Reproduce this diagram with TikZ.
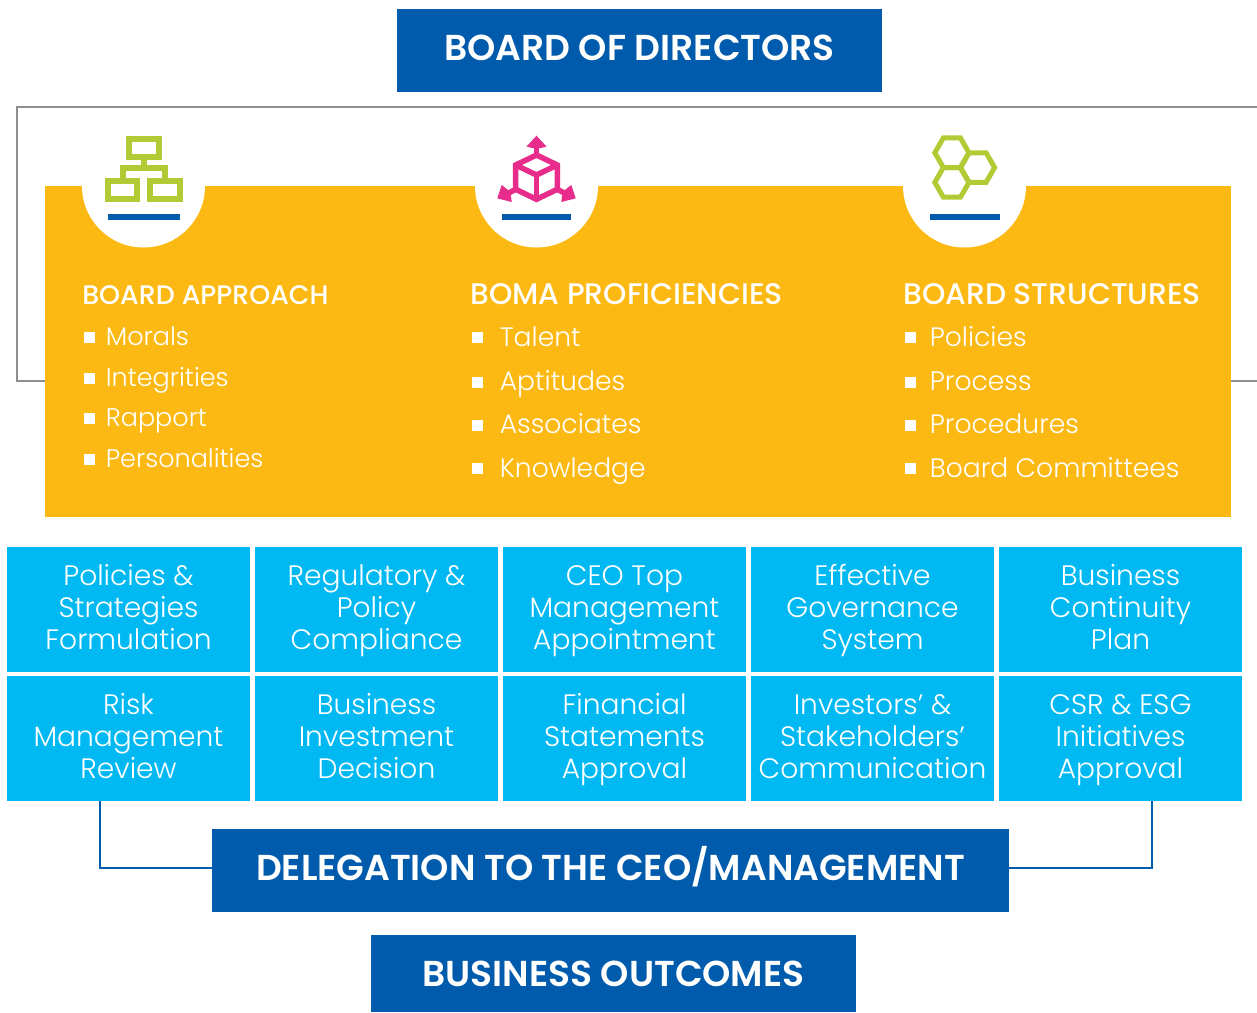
\documentclass[tikz,border=0pt]{standalone}
\usepackage{fontspec}
\setmainfont{Poppins}
\newfontface\lightface{Poppins Light}
\newfontface\mediumface{Poppins Medium}
\newfontface\semiface{Poppins SemiBold}
\usetikzlibrary{calc}
\usetikzlibrary{positioning}

\definecolor{navy}{HTML}{005BAC}
\definecolor{sky}{HTML}{00B9F2}
\definecolor{amber}{HTML}{FDB913}
\definecolor{leaf}{HTML}{B2CB34}
\definecolor{rose}{HTML}{E72C8B}
\definecolor{frame}{HTML}{8C8F91}

\tikzset{
    banner/.style={fill=navy, text=white, inner sep=0pt, minimum height=1.66cm, font=\fontsize{20.5}{24}\selectfont\semiface, execute at begin node={\rule[-8pt]{0pt}{\dimexpr16pt+#1+#1\relax}}},
    banner/.default=5.8pt,
    cell/.style={fill=sky, text=white, inner sep=0pt, minimum width=4.86cm, minimum height=2.5cm, align=center, font=\fontsize{16}{18.14}\selectfont\lightface, execute at begin node={\rule{0pt}{51.4pt}}, execute at end node={\rule[-6.4pt]{0pt}{6.4pt}}},
    head/.style={anchor=base west, text=white, inner sep=0pt, font=\fontsize{16.95}{18}\selectfont\mediumface},
    item/.style={anchor=base west, text=white, inner sep=0pt, font=\fontsize{15.15}{18}\selectfont\lightface},
    smallhead/.style={head, font=\fontsize{15.25}{18}\selectfont\mediumface},
    smallitem/.style={item, font=\fontsize{14.5}{18}\selectfont\lightface},
    link/.style={draw=navy, line width=0.04cm},
    rim/.style={draw=frame, line width=0.04cm}
}

\begin{document}
\begin{tikzpicture}[x=0.02cm, y=-0.02cm]

    \useasboundingbox (0,0) rectangle (1257,1012);

    \coordinate (approach) at (82,303);
    \coordinate (boma) at (470,303);
    \coordinate (structures) at (903,303);

    % frame behind the panel
    \draw[rim] (45,381) -- (17,381) -- (17,107) -- (1257,107);
    \draw[rim] (1231,381) -- (1257,381);

    \node[banner, minimum width=9.7cm] (board) at (639.5,50.5) {BOARD OF DIRECTORS};

    \fill[amber] (45,186) rectangle (1231,517);
    \fill[white] (143.5,186) circle (61.5);
    \fill[white] (536.5,186) circle (61.5);
    \fill[white] (964.5,186) circle (61.5);
    \fill[navy] (108,214) rectangle (180,220);
    \fill[navy] (502,214) rectangle (571,220);
    \fill[navy] (930,214) rectangle (1000,220);

    % org chart icon
    \draw[leaf, line width=0.12cm] (128.7,138.7) rectangle (158.7,157);
    \draw[leaf, line width=0.12cm] (108,181) rectangle (137,199);
    \draw[leaf, line width=0.12cm] (150,181) rectangle (180,199);
    \draw[leaf, line width=0.12cm] (144,157) -- (144,168);
    \draw[leaf, line width=0.12cm] (122.7,178) -- (122.7,168) -- (165,168) -- (165,178);

    % cube icon
    \draw[rose, line width=0.11cm, line join=miter] (536.5,155) -- (515.7,165) -- (515.7,189.3) -- (536.5,199.3) -- (557.3,189.3) -- (557.3,165) -- cycle;
    \draw[rose, line width=0.11cm] (515.7,165) -- (536.5,175) -- (557.3,165);
    \draw[rose, line width=0.11cm] (536.5,175) -- (536.5,199.3);
    \draw[rose, line width=0.11cm] (536.5,155) -- (536.5,145);
    \draw[rose, line width=0.11cm] (515.7,189.3) -- (505,195);
    \draw[rose, line width=0.11cm] (557.3,189.3) -- (568,195);
    \fill[rose] (536.5,135.7) -- (546.5,146.5) -- (541,148) -- (532,148) -- (526.5,146.5) -- cycle;
    \fill[rose] (497.3,198.3) -- (501.7,185) -- (508,190) -- (511,196) -- (511.7,202) -- cycle;
    \fill[rose] (575.7,198.3) -- (571.3,185) -- (565,190) -- (562,196) -- (561.3,202) -- cycle;

    % honeycomb icon
    \draw[leaf, line width=0.1cm] (951.9,152.75) ++(17.1,0) -- ++(-8.55,-14.8) -- ++(-17.1,0) -- ++(-8.55,14.8) -- ++(8.55,14.8) -- ++(17.1,0) -- cycle;
    \draw[leaf, line width=0.1cm] (951.9,182.35) ++(17.1,0) -- ++(-8.55,-14.8) -- ++(-17.1,0) -- ++(-8.55,14.8) -- ++(8.55,14.8) -- ++(17.1,0) -- cycle;
    \draw[leaf, line width=0.1cm] (977.5,167.55) ++(17.1,0) -- ++(-8.55,-14.8) -- ++(-17.1,0) -- ++(-8.55,14.8) -- ++(8.55,14.8) -- ++(17.1,0) -- cycle;

    % first list
    \node[smallhead] (approachhead) at (82,304) {BOARD APPROACH};
    \fill[white] (approach)++(2,29) rectangle +(11,11);
    \node[smallitem] (morals) at (105.5,345) {Morals};
    \fill[white] (approach)++(2,70) rectangle +(11,11);
    \node[smallitem] (integrities) at (105.5,386) {Integrities};
    \fill[white] (approach)++(2,110) rectangle +(11,11);
    \node[smallitem] (rapport) at (105.5,426) {Rapport};
    \fill[white] (approach)++(2,151) rectangle +(11,11);
    \node[smallitem] (personalities) at (105.5,467) {Personalities};

    % second list
    \node[head] (bomahead) at (470,304) {BOMA PROFICIENCIES};
    \fill[white] (boma)++(2,29) rectangle +(11,11);
    \node[item] (talent) at (499.5,346.5) {Talent};
    \fill[white] (boma)++(2,74) rectangle +(11,11);
    \node[item] (aptitudes) at (499.5,390.5) {Aptitudes};
    \fill[white] (boma)++(2,117) rectangle +(11,11);
    \node[item] (associates) at (499.5,433.5) {Associates};
    \fill[white] (boma)++(2,160) rectangle +(11,11);
    \node[item] (knowledge) at (499.5,477.5) {Knowledge};

    % third list
    \node[head] (structureshead) at (903,304) {BOARD STRUCTURES};
    \fill[white] (structures)++(2,29) rectangle +(11,11);
    \node[item] (policies) at (929.5,346.5) {Policies};
    \fill[white] (structures)++(2,74) rectangle +(11,11);
    \node[item] (process) at (929.5,390.5) {Process};
    \fill[white] (structures)++(2,117) rectangle +(11,11);
    \node[item] (procedures) at (929.5,433.5) {Procedures};
    \fill[white] (structures)++(2,160) rectangle +(11,11);
    \node[item] (committees) at (929.5,477.5) {Board Committees};

    \node[cell] (formulation) at (128.5,609.5) {Policies \&\\Strategies\\Formulation};
    \node[cell] (compliance) at (376.5,609.5) {Regulatory \&\\Policy\\Compliance};
    \node[cell] (appointment) at (624.5,609.5) {CEO Top\\Management\\Appointment};
    \node[cell] (governance) at (872.5,609.5) {Effective\\Governance\\System};
    \node[cell] (continuity) at (1120.5,609.5) {Business\\Continuity\\Plan};

    \node[cell] (risk) at (128.5,738.5) {Risk\\Management\\Review};
    \node[cell] (investment) at (376.5,738.5) {Business\\Investment\\Decision};
    \node[cell] (statements) at (624.5,738.5) {Financial\\Statements\\Approval};
    \node[cell] (investors) at (872.5,738.5) {Investors’ \&\\Stakeholders’\\Communication};
    \node[cell] (csr) at (1120.5,738.5) {CSR \& ESG\\Initiatives\\Approval};

    \node[banner, minimum width=15.94cm] (delegation) at (610.5,870.5) {DELEGATION TO THE CEO/MANAGEMENT};
    \node[banner=7.5pt, minimum width=9.7cm, minimum height=1.54cm] (outcomes) at (613.5,973.5) {BUSINESS OUTCOMES};

    \coordinate (riskfoot) at (100,801);
    \coordinate (csrfoot) at (1152,801);
    \coordinate (delegationleft) at (212,868);
    \coordinate (delegationright) at (1009,868);
    \draw[link] (riskfoot) |- (delegationleft);
    \draw[link] (csrfoot) |- (delegationright);

\end{tikzpicture}
\end{document}
